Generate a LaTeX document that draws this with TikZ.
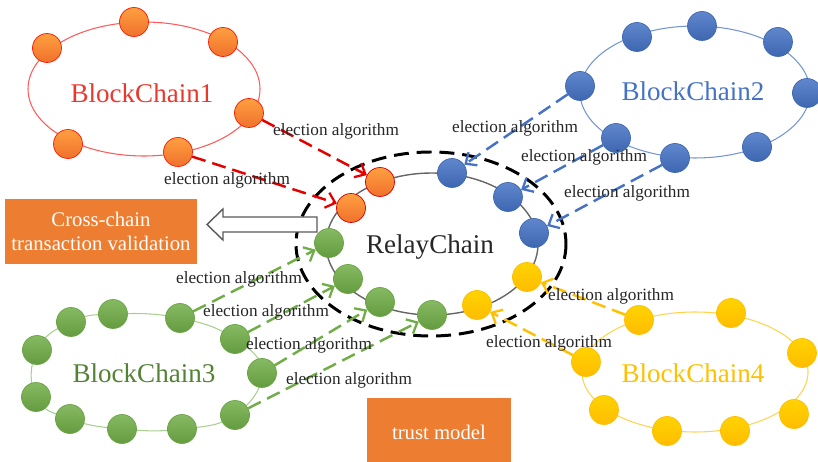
\documentclass[tikz,border=0pt]{standalone}
\usepackage{fontspec}
\setmainfont{Liberation Serif}
\usepackage{xcolor}
\usepackage{tikz}
\usetikzlibrary{arrows.meta}

\definecolor{boxorange}{HTML}{ED7D31}
\definecolor{chainred}{HTML}{E8392F}
\definecolor{chainblue}{HTML}{4472C4}
\definecolor{chaingreen}{HTML}{70AD47}
\definecolor{chainyellow}{HTML}{FFC000}

\begin{document}
\begin{tikzpicture}[x=0.02cm, y=-0.02cm,
    blockA/.style={draw=red!80!orange, circle, top color=orange!75!white, bottom color=boxorange!90!red, minimum size=0.58cm, inner sep=0pt},
    blockB/.style={draw=chainblue!90!black, circle, top color=chainblue!85!white, bottom color=chainblue!90!black, minimum size=0.58cm, inner sep=0pt},
    blockC/.style={draw=chaingreen!95!black, circle, top color=chaingreen!85!white, bottom color=chaingreen!90!black, minimum size=0.58cm, inner sep=0pt},
    blockD/.style={draw=chainyellow!95!orange, circle, top color=chainyellow!70!yellow, bottom color=chainyellow!95!orange, minimum size=0.58cm, inner sep=0pt},
    ring/.style={line width=0.6pt},
    relayring/.style={gray!80!black, line width=0.8pt},
    trustring/.style={black, line width=1.7pt, dash pattern=on 8.5pt off 4.5pt},
    elect/.style={line width=1.4pt, dash pattern=on 8pt off 4pt, -{Straight Barb[length=5pt, width=9pt, line width=1.3pt]}},
    lbl/.style={font=\fontsize{9.8}{11}\selectfont, text=black!85, inner sep=0pt},
    title/.style={font=\fontsize{15.4}{18}\selectfont, inner sep=0pt},
    orangebox/.style={fill=boxorange, text=white, align=center, font=\fontsize{11.8}{14}\selectfont, inner sep=0pt}
]

\useasboundingbox (0,0) rectangle (818,462);

\draw[ring, red!65!white] (144,89) ellipse [x radius=116, y radius=67];
\draw[ring, chainblue!75!white] (695,92) ellipse [x radius=115, y radius=66];
\draw[ring, chaingreen!60!white] plot[smooth cycle, tension=0.75] coordinates
  {(37,350) (71,322) (113,314) (180,318) (235,339) (262,373) (235,415) (182,429) (122,429) (70,419) (36,397)};
\draw[ring, chainyellow!70!white] (695,372) ellipse [x radius=113, y radius=60];
\draw[relayring] (432,244) ellipse [x radius=106, y radius=71];
\draw[trustring] (431,244) ellipse [x radius=135, y radius=92];

\draw[gray!70!black, fill=white, line width=0.8pt] (317,217) -- (223,217) -- (223,209) -- (207,224.5)
  -- (223,240) -- (223,232) -- (317,232) -- cycle;

\node[orangebox, minimum width=3.84cm, minimum height=1.3cm] (xval) at (101,231.5)
  {Cross-chain\\transaction validation};
\node[orangebox, minimum width=2.9cm, minimum height=1.36cm] (trust) at (439,432) {trust model};

\node[title, text=chainred] (bc1) at (142,93) {BlockChain1};
\node[title, text=chainblue] (bc2) at (693,91) {BlockChain2};
\node[title, text=chaingreen!75!black] (bc3) at (144,373) {BlockChain3};
\node[title, text=chainyellow] (bc4) at (693,373) {BlockChain4};
\node[title, text=black!85] (relay) at (430,247) {RelayChain};

\node[blockA] (a1) at (47,48) {};
\node[blockA] (a2) at (134,22) {};
\node[blockA] (a3) at (223,42) {};
\node[blockA] (a4) at (249,113) {};
\node[blockA] (a5) at (178,152) {};
\node[blockA] (a6) at (68,144) {};

\node[blockB] (b1) at (580,86) {};
\node[blockB] (b2) at (637,37) {};
\node[blockB] (b3) at (702,26) {};
\node[blockB] (b4) at (778,42) {};
\node[blockB] (b5) at (807,93) {};
\node[blockB] (b6) at (757,147) {};
\node[blockB] (b7) at (675,158) {};
\node[blockB] (b8) at (616,138) {};

\node[blockC] (c1) at (37,350) {};
\node[blockC] (c2) at (71,322) {};
\node[blockC] (c3) at (113,314) {};
\node[blockC] (c4) at (180,318) {};
\node[blockC] (c5) at (235,339) {};
\node[blockC] (c6) at (262,373) {};
\node[blockC] (c7) at (235,415) {};
\node[blockC] (c8) at (182,429) {};
\node[blockC] (c9) at (122,429) {};
\node[blockC] (c10) at (70,419) {};
\node[blockC] (c11) at (36,397) {};

\node[blockD] (d1) at (586,362) {};
\node[blockD] (d2) at (639,320) {};
\node[blockD] (d3) at (731,313) {};
\node[blockD] (d4) at (802,353) {};
\node[blockD] (d5) at (794,414) {};
\node[blockD] (d6) at (735,431) {};
\node[blockD] (d7) at (667,431) {};
\node[blockD] (d8) at (604,410) {};

\node[blockA, draw=red!85!black] (ra1) at (380,182) {};
\node[blockA, draw=red!85!black] (ra2) at (351,208) {};
\node[blockB] (rb1) at (452,173) {};
\node[blockB] (rb2) at (508,197) {};
\node[blockB] (rb3) at (534,233) {};
\node[blockD] (rd1) at (527,277) {};
\node[blockD] (rd2) at (477,305) {};
\node[blockC] (rc1) at (329,243) {};
\node[blockC] (rc2) at (348,279) {};
\node[blockC] (rc3) at (380,302) {};
\node[blockC] (rc4) at (432,315) {};

\draw[elect, red!90!black] (a4) -- (ra1);
\draw[elect, red!90!black] (a5) -- (ra2);
\draw[elect, chainblue] (b1) -- (rb1);
\draw[elect, chainblue] (b8) -- (rb2);
\draw[elect, chainblue] (b7) -- (rb3);
\draw[elect, chaingreen] (c4) -- (rc1);
\draw[elect, chaingreen] (c5) -- (rc2);
\draw[elect, chaingreen] (c6) -- (rc3);
\draw[elect, chaingreen] (c7) -- (rc4);
\draw[elect, chainyellow] (d2) -- (rd1);
\draw[elect, chainyellow] (d1) -- (rd2);

\node[lbl] (la1) at (336,131) {election algorithm};
\node[lbl] (la2) at (227,180) {election algorithm};
\node[lbl] (lb1) at (515,128) {election algorithm};
\node[lbl] (lb2) at (584,157) {election algorithm};
\node[lbl] (lb3) at (627,193) {election algorithm};
\node[lbl] (lc1) at (239,279) {election algorithm};
\node[lbl] (lc2) at (266,312) {election algorithm};
\node[lbl] (lc3) at (309,345) {election algorithm};
\node[lbl] (lc4) at (349,380) {election algorithm};
\node[lbl] (ld1) at (611,296) {election algorithm};
\node[lbl] (ld2) at (549,343) {election algorithm};

\end{tikzpicture}
\end{document}
